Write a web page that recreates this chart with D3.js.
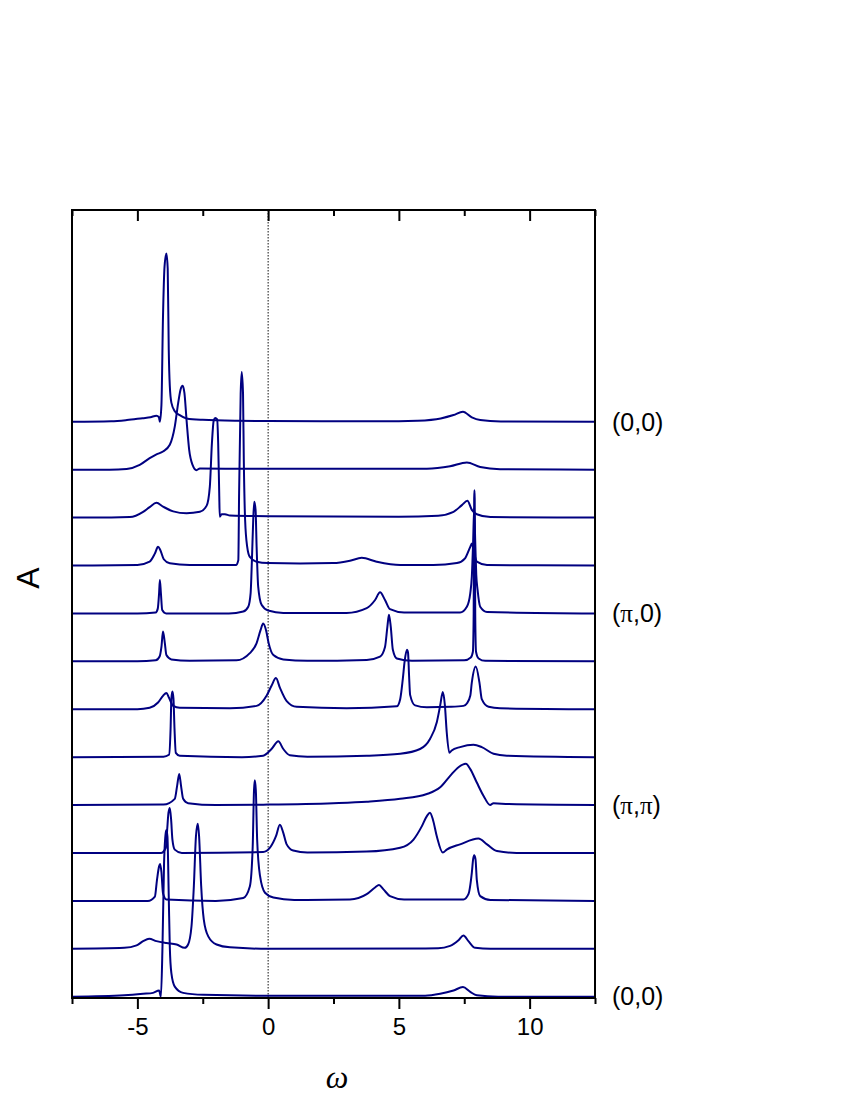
<!DOCTYPE html>
<html><head><meta charset="utf-8">
<script src="https://cdn.jsdelivr.net/npm/d3@7"></script>
<style>body{margin:0;background:#fff}svg{display:block}</style>
</head><body>
<svg id="chart" width="850" height="1100"></svg>
<script>
// ---- data ----
const omegaDomain = [-7.5, 12.5];
const majorTicks = [-5, 0, 5, 10];
const minorTicks = [-7.5, -2.5, 2.5, 7.5, 12.5];
const offsetStep = 1;            // vertical offset between successive spectra
const labelCurves = [0, 4, 8, 12];
const labelTexts = ["(0,0)", "(\u03c0,0)", "(\u03c0,\u03c0)", "(0,0)"];

const curve0 = [[-7.5,0],[-6.0,0.01],[-5.4,0.035],[-4.8,0.075],[-4.5,0.095],[-4.27,0.125],[-4.18,0.1],[-4.14,0.0],[-4.08,0.35],[-4.02,2.2],[-3.96,3.25],[-3.89,3.51],[-3.84,3.2],[-3.80,1.5],[-3.76,0.75],[-3.70,0.4],[-3.57,0.22],[-3.38,0.14],[-3.12,0.07],[-2.5,0.04],[-1.2,0.02],[0,0.015],[5.0,0.01],[5.7,0.02],[6.6,0.07],[7.09,0.14],[7.45,0.21],[7.79,0.09],[8.11,0.035],[8.9,0.008],[12.5,0]];
const curve1 = [[-7.5,0],[-6.06,0],[-5.41,0.015],[-4.91,0.1],[-4.53,0.24],[-4.27,0.32],[-4.02,0.38],[-3.76,0.52],[-3.57,0.90],[-3.44,1.39],[-3.35,1.67],[-3.27,1.75],[-3.20,1.60],[-3.12,1.04],[-3.02,0.42],[-2.89,0.10],[-2.74,-0.01],[-2.61,0.025],[-1,0.02],[5.0,0.02],[6.07,0.02],[6.96,0.07],[7.60,0.15],[8.11,0.056],[8.87,0.01],[12.5,0]];
const curve2 = [[-7.5,0],[-6.0,0],[-5.29,0.01],[-4.78,0.12],[-4.53,0.22],[-4.27,0.31],[-4.02,0.23],[-3.63,0.13],[-3.12,0.09],[-2.61,0.12],[-2.35,0.25],[-2.23,0.64],[-2.15,1.55],[-2.08,2.03],[-2.02,2.08],[-1.95,2.05],[-1.91,1.55],[-1.87,0.50],[-1.85,0.02],[-1.78,0.07],[-1.65,0.07],[-1.46,0.045],[0,0.03],[5,0.02],[6.5,0.04],[7.09,0.12],[7.41,0.26],[7.62,0.35],[7.79,0.16],[7.98,0.07],[8.5,0.01],[12.5,0]];
const curve3 = [[-7.5,0],[-5.0,0.01],[-4.53,0.08],[-4.33,0.25],[-4.21,0.39],[-4.12,0.32],[-3.99,0.13],[-3.76,0.045],[-3.0,0.01],[-1.23,0.01],[-1.14,0.11],[-1.11,1.5],[-1.05,3.59],[-1.01,4.04],[-0.96,3.59],[-0.93,2.20],[-0.88,0.95],[-0.80,0.39],[-0.70,0.18],[-0.44,0.08],[0,0.05],[1.22,0.04],[2.49,0.05],[3.13,0.10],[3.58,0.16],[4.15,0.08],[5.05,0.01],[6.32,0.01],[7.22,0.05],[7.53,0.15],[7.73,0.39],[7.79,0.46],[7.88,0.25],[7.98,0.08],[8.37,0.01],[12.5,0]];
const curve4 = [[-7.5,0],[-5,0],[-4.3,0.02],[-4.22,0.1],[-4.17,0.42],[-4.14,0.70],[-4.10,0.42],[-4.05,0.07],[-3.9,0],[-1.5,0],[-0.95,0.04],[-0.76,0.14],[-0.67,0.42],[-0.62,1.11],[-0.57,1.95],[-0.53,2.33],[-0.48,2.16],[-0.44,1.39],[-0.38,0.56],[-0.25,0.18],[0,0.06],[0.58,0.01],[3.0,0.01],[3.77,0.11],[4.09,0.28],[4.28,0.44],[4.47,0.28],[4.66,0.09],[5.2,0.02],[7.34,0.02],[7.60,0.14],[7.73,0.42],[7.79,0.77],[7.84,1.5],[7.88,2.2],[7.92,1.5],[7.96,0.8],[8.01,0.49],[8.11,0.14],[8.37,0.03],[12.5,0]];
const curve5 = [[-7.5,0],[-5,0],[-4.3,0.02],[-4.15,0.1],[-4.08,0.30],[-4.02,0.62],[-3.95,0.38],[-3.89,0.13],[-3.70,0.04],[-3.0,0.01],[-1.21,0.02],[-0.70,0.17],[-0.44,0.38],[-0.29,0.65],[-0.19,0.79],[-0.08,0.65],[0.02,0.38],[0.20,0.13],[0.58,0.04],[1.5,0.01],[3.77,0.03],[4.28,0.10],[4.47,0.30],[4.56,0.72],[4.62,0.97],[4.69,0.72],[4.77,0.24],[4.92,0.06],[5.5,0.01],[7.5,0.02],[7.75,0.08],[7.83,0.2],[7.86,1.0],[7.88,3.4],[7.89,3.57],[7.90,3.4],[7.92,1.0],[7.95,0.2],[8.05,0.06],[8.3,0.01],[12.5,0]];
const curve6 = [[-7.5,0],[-5,0],[-4.53,0.03],[-4.21,0.14],[-4.02,0.28],[-3.89,0.34],[-3.79,0.24],[-3.63,0.07],[-3.38,0.03],[-1.46,0.02],[-0.44,0.07],[-0.06,0.28],[0.13,0.49],[0.30,0.65],[0.45,0.45],[0.71,0.17],[1.09,0.05],[3,0.02],[4.92,0.06],[5.05,0.21],[5.15,0.63],[5.22,1.0],[5.31,1.24],[5.35,1.18],[5.39,0.7],[5.43,0.3],[5.62,0.08],[6.07,0.04],[7.0,0.05],[7.47,0.07],[7.60,0.12],[7.73,0.28],[7.79,0.56],[7.94,0.89],[8.08,0.56],[8.17,0.21],[8.43,0.05],[8.87,0.02],[12.5,0]];
const curve7 = [[-7.5,0],[-4,0.01],[-3.79,0.05],[-3.73,0.59],[-3.70,1.22],[-3.66,1.37],[-3.62,1.22],[-3.58,0.59],[-3.53,0.09],[-3.38,0.03],[-1.0,0],[-0.19,0.03],[0.13,0.17],[0.39,0.33],[0.58,0.17],[0.83,0.04],[1.5,0.01],[3.77,0.03],[5.05,0.07],[5.81,0.17],[6.19,0.38],[6.45,0.73],[6.58,1.08],[6.68,1.36],[6.76,1.08],[6.83,0.52],[6.93,0.09],[7.02,0.14],[7.34,0.21],[7.85,0.26],[8.17,0.21],[8.62,0.07],[9.13,0.03],[12.5,0]];
const curve8 = [[-7.5,0],[-4,0.01],[-3.57,0.13],[-3.48,0.40],[-3.40,0.65],[-3.33,0.40],[-3.25,0.13],[-3.06,0.04],[-2,0],[0,0.01],[2.49,0.04],[3.77,0.07],[5.05,0.13],[6.07,0.23],[6.58,0.37],[6.96,0.61],[7.28,0.79],[7.56,0.86],[7.73,0.75],[7.98,0.47],[8.24,0.19],[8.49,0.0],[8.62,0.04],[9.2,0.02],[12.5,0]];
const curve9 = [[-7.5,0],[-4.1,0],[-3.91,0.11],[-3.86,0.49],[-3.81,0.84],[-3.76,0.94],[-3.71,0.70],[-3.66,0.28],[-3.57,0.07],[-3.3,0],[-0.19,0.02],[0.07,0.11],[0.30,0.35],[0.45,0.59],[0.58,0.42],[0.71,0.18],[0.96,0.05],[1.5,0.01],[3.77,0.03],[5.05,0.11],[5.56,0.28],[5.88,0.56],[6.07,0.77],[6.19,0.84],[6.30,0.70],[6.45,0.35],[6.68,0.01],[6.83,0.07],[7.34,0.18],[8.04,0.30],[8.37,0.18],[8.75,0.04],[9.5,0],[12.5,0]];
const curve10 = [[-7.5,0],[-4.6,0],[-4.33,0.09],[-4.25,0.44],[-4.17,0.72],[-4.13,0.77],[-4.08,0.60],[-4.02,0.16],[-3.89,0.03],[-2,0],[-0.95,0.06],[-0.70,0.30],[-0.59,1.13],[-0.54,2.31],[-0.51,2.52],[-0.47,2.31],[-0.42,1.28],[-0.31,0.52],[-0.12,0.17],[0.20,0.07],[1.0,0.02],[3.13,0.03],[3.77,0.14],[4.09,0.28],[4.24,0.33],[4.41,0.24],[4.66,0.10],[5.2,0.03],[7.47,0.03],[7.66,0.14],[7.79,0.59],[7.84,0.87],[7.88,0.95],[7.93,0.87],[7.98,0.44],[8.11,0.10],[8.5,0.02],[12.5,0]];
const curve11 = [[-7.5,0],[-5.5,0.02],[-5.03,0.07],[-4.78,0.16],[-4.55,0.21],[-4.27,0.16],[-3.89,0.12],[-3.50,0.09],[-3.19,0.02],[-3.06,0.09],[-2.93,0.47],[-2.84,1.31],[-2.76,2.35],[-2.69,2.61],[-2.64,2.35],[-2.56,1.31],[-2.46,0.61],[-2.29,0.26],[-1.97,0.09],[-1.46,0.03],[0,0],[6.5,0.01],[6.96,0.06],[7.28,0.18],[7.47,0.28],[7.66,0.16],[7.92,0.02],[8.5,0],[12.5,0]];
const curve12 = [[-7.5,0],[-5.5,0.03],[-4.78,0.06],[-4.40,0.08],[-4.17,0.13],[-4.10,0.0],[-4.04,1.04],[-3.98,2.78],[-3.91,3.44],[-3.89,3.48],[-3.85,3.34],[-3.80,2.09],[-3.76,1.04],[-3.70,0.49],[-3.57,0.21],[-3.25,0.08],[-2.48,0.04],[0,0.02],[6.0,0.02],[6.58,0.06],[7.09,0.13],[7.45,0.20],[7.73,0.10],[7.98,0.03],[8.8,0],[12.5,0]];
const spectra = [curve0,curve1,curve2,curve3,curve4,curve5,curve6,curve7,curve8,curve9,curve10,curve11,curve12];

// ---- layout ----
const svg = d3.select("#chart");
const L = 72, R = 595, T = 210, B = 998;
const nCurves = spectra.length;
const x = d3.scaleLinear().domain(omegaDomain).range([L, R]);
const y = d3.scaleLinear().domain([-0.027, 16.42]).range([B, T]);
const lineColor = "#000080";
const font = "Arial, 'Liberation Sans', Helvetica, sans-serif";

svg.append("defs").append("clipPath").attr("id","plotclip")
  .append("rect").attr("x",L).attr("y",T-2).attr("width",R-L).attr("height",B-T+4);

// dotted zero line
svg.append("line")
  .attr("x1", x(0)).attr("x2", x(0)).attr("y1", T).attr("y2", B)
  .attr("stroke", "#111").attr("stroke-width", 1).attr("stroke-dasharray", "1.5,1.5");

// spectra
const line = d3.line().curve(d3.curveMonotoneX);
const g = svg.append("g").attr("clip-path","url(#plotclip)");
spectra.forEach((pts, k) => {
  const off = (nCurves - 1 - k) * offsetStep;
  g.append("path")
    .attr("d", line.x(d => x(d[0])).y(d => y(d[1] + off))(pts))
    .attr("fill", "none").attr("stroke", lineColor)
    .attr("stroke-width", 2).attr("stroke-linejoin","round");
});

// frame
svg.append("rect").attr("x",L).attr("y",T).attr("width",R-L).attr("height",B-T)
  .attr("fill","none").attr("stroke","#000").attr("stroke-width",2);

// bottom axis (ticks outward)
const axB = svg.append("g").attr("transform",`translate(0,${B})`)
  .call(d3.axisBottom(x).tickValues(majorTicks).tickSize(11).tickPadding(9).tickFormat(d => String(d)));
svg.append("g").attr("transform",`translate(0,${B})`)
  .call(d3.axisBottom(x).tickValues(minorTicks).tickSize(6).tickFormat(""));
// top axis (ticks inward)
svg.append("g").attr("transform",`translate(0,${T})`)
  .call(d3.axisTop(x).tickValues(majorTicks).tickSize(-11).tickFormat(""));
svg.append("g").attr("transform",`translate(0,${T})`)
  .call(d3.axisTop(x).tickValues(minorTicks).tickSize(-6).tickFormat(""));
svg.selectAll(".domain").remove();
svg.selectAll(".tick line").attr("stroke","#000").attr("stroke-width",2);
axB.selectAll(".tick text").attr("font-family", font).attr("font-size", 24).attr("fill","#000");

// right-hand labels
labelCurves.forEach((k, i) => {
  const off = (nCurves - 1 - k) * offsetStep;
  const t = svg.append("text").attr("x", R + 17).attr("y", y(off))
    .attr("dy", "0.35em").attr("font-family", font).attr("font-size", 25).attr("fill","#000");
  const parts = labelTexts[i].split(/(\u03c0)/);
  parts.forEach(p => {
    if (!p) return;
    const ts = t.append("tspan").text(p);
    if (p === "\u03c0") ts.attr("font-family", "'Times New Roman','Liberation Serif',serif");
  });
});

// axis titles
svg.append("text").attr("transform", "translate(39,578) rotate(-90)")
  .attr("text-anchor","middle").attr("font-family", font).attr("font-size", 32).attr("fill","#000").text("A");
svg.append("text").attr("x", 337).attr("y", 1088).attr("text-anchor","middle")
  .attr("font-family","'Liberation Serif','Times New Roman',serif").attr("font-style","italic")
  .attr("font-size", 32).attr("fill","#000").text("\u03c9");
</script>
</body></html>
